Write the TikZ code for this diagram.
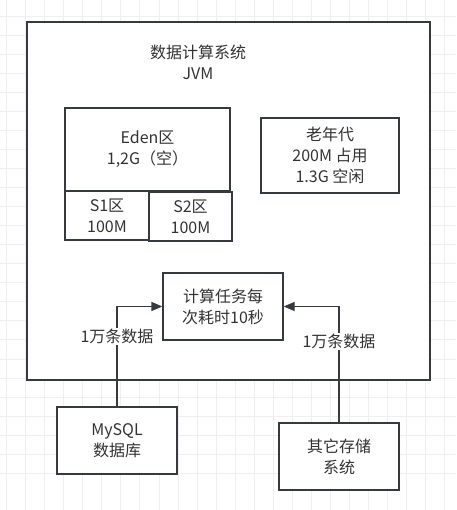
\documentclass[tikz,border=0pt]{standalone}
\usepackage{fontspec}
\setmainfont{Noto Sans CJK SC}
\usepackage{tikz}
\usetikzlibrary{positioning}
\usetikzlibrary{arrows.meta}
\definecolor{edge}{HTML}{36393D}
\definecolor{ink}{HTML}{333333}
\definecolor{grid}{HTML}{EFEFEF}
\tikzset{
	block/.style={
		draw=edge, line width=1.3pt, fill=white, text=ink, align=center,
		inner sep=0pt, minimum width=#1
	},
	block/.default=120,
	flow/.style={
		draw=edge, line width=1.3pt, -{Triangle[length=11pt,width=9pt]}
	},
	flow label/.style={
		fill=white, text=ink, inner sep=1pt
	}
}
\begin{document}
\begin{tikzpicture}[x=1pt, y=-1pt, every node/.style={font=\fontsize{16}{21}\selectfont}]
	\useasboundingbox (0,0) rectangle (456,510);
	\fill[white] (0,0) rectangle (456,510);
	% background grid
	\foreach \i in {0,...,23}{
		\draw[grid, line width=0.8pt] ({6.5+19.05*\i},0) -- ({6.5+19.05*\i},510);
		\draw[grid, line width=0.8pt] (0,{16+19.05*\i}) -- (456,{16+19.05*\i});
	}
	\draw[grid, line width=0.8pt] (0,{16+19.05*24}) -- (456,{16+19.05*24});

	\node[block=403, minimum height=358, line width=1.5pt] (jvm) at (228.5,201) {};
	\node[text=ink, align=center] (title) at (198,62) {数据计算系统\\JVM};

	\node[block=165, minimum height=83] (eden) at (147.5,149.5) {Eden区\\1,2G（空）};
	\node[block=84, minimum height=49] (s1) at (107,215.5) {S1区\\100M};
	\node[block=83, minimum height=49] (s2) at (190.5,216.5) {S2区\\100M};
	\node[block=138, minimum height=75] (old) at (330,155.5) {老年代\\200M 占用\\1.3G 空闲};

	\node[block, minimum height=67] (task) at (223,306.5) {计算任务每\\次耗时10秒};
	\node[block, minimum height=67] (mysql) at (117,440.5) {MySQL\\数据库};
	\node[block, minimum height=67] (store) at (339,456.5) {其它存储\\系统};

	\draw[flow] (mysql.north) |- (task.west) node[flow label, pos=0.35] {1万条数据};
	\draw[flow] (store.north) |- (task.east) node[flow label, pos=0.35] {1万条数据};
\end{tikzpicture}
\end{document}
